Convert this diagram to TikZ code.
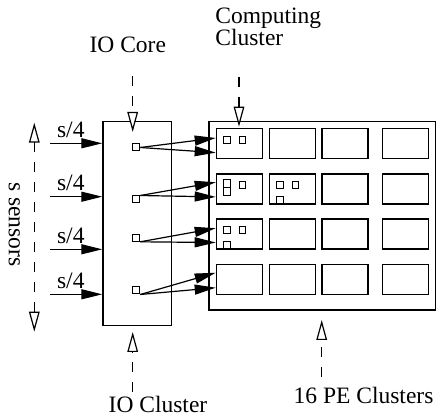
\documentclass[tikz,border=0pt]{standalone}
\usepackage{fontspec}
\setmainfont{Liberation Serif}
\usepackage{tikz}
\usetikzlibrary{arrows.meta, positioning, calc}

\tikzset{
  fillhead/.tip={Triangle[length=10.5pt, width=5pt]},
  hollowhead/.tip={Triangle[open, fill=white, length=10pt, width=5.3pt]},
  box/.style={draw, line width=0.6pt, inner sep=0pt, anchor=north west},
  pecell/.style={box, minimum width=23pt, minimum height=15pt},
  core/.style={draw, line width=0.5pt, inner sep=0pt, minimum size=3.4pt},
  txt/.style={inner sep=0pt, font=\fontsize{11.75}{10.85}\selectfont},
  feed/.style={line width=0.6pt, -fillhead},
  pointer/.style={line width=0.6pt, dash pattern=on 5pt off 5pt, -hollowhead}
}

\begin{document}
\begin{tikzpicture}[x=0.5pt, y=-0.5pt]
\useasboundingbox (0,0) rectangle (440,417);

% IO cluster and its cores
\node[box, minimum width=34.35pt, minimum height=102.15pt] (iocl) at (102.3,120.7) {};
\node[core, minimum size=3.5pt] (core1) at (136.3,147.5) {};
\node[core, minimum size=3.5pt] (core2) at (136.3,199.5) {};
\node[core, minimum size=3.5pt] (core3) at (136.3,237.8) {};
\node[core, minimum size=3.5pt] (core4) at (136.3,290.5) {};

% PE clusters, 4 x 4
\node[box, minimum width=113.35pt, minimum height=94.4pt] (pecl) at (208.3,120.7) {};
\node[pecell] (c11) at (215.7,128.3) {};
\node[pecell] (c12) at (268.7,128.3) {};
\node[pecell] (c13) at (321.3,128.3) {};
\node[pecell] (c14) at (382.0,128.3) {};
\node[pecell] (c21) at (215.7,173.5) {};
\node[pecell] (c22) at (268.7,173.5) {};
\node[pecell] (c23) at (321.3,173.5) {};
\node[pecell] (c24) at (382.0,173.5) {};
\node[pecell] (c31) at (215.7,218.5) {};
\node[pecell] (c32) at (268.7,218.5) {};
\node[pecell] (c33) at (321.3,218.5) {};
\node[pecell] (c34) at (382.0,218.5) {};
\node[pecell] (c41) at (215.7,264.3) {};
\node[pecell] (c42) at (268.7,264.3) {};
\node[pecell] (c43) at (321.3,264.3) {};
\node[pecell] (c44) at (382.0,264.3) {};

% PEs in use
\node[core] (pe11a) at ($(c11.north west)+(11,11.7)$) {};
\node[core] (pe11b) at ($(c11.north west)+(26.8,11.7)$) {};
\node[core, minimum size=3.8pt] (pe21a) at ($(c21.north west)+(11.3,10.3)$) {};
\node[core, minimum size=3.8pt] (pe21b) at ($(c21.north west)+(11.3,18.1)$) {};
\node[core] (pe21c) at ($(c21.north west)+(26.8,11.2)$) {};
\node[core] (pe22a) at ($(c22.north west)+(11.3,11.5)$) {};
\node[core] (pe22b) at ($(c22.north west)+(26.8,11.5)$) {};
\node[core] (pe22c) at ($(c22.north west)+(11.3,26.8)$) {};
\node[core] (pe31a) at ($(c31.north west)+(11,11.8)$) {};
\node[core] (pe31b) at ($(c31.north west)+(26.8,11.8)$) {};
\node[core] (pe31c) at ($(c31.north west)+(11.3,26.8)$) {};

% sensor inputs
\coordinate (in1) at (50,143.3);
\coordinate (in2) at (50,196.7);
\coordinate (in3) at (50,249.3);
\coordinate (in4) at (50,294.3);
\draw[feed] (in1) -- (in1 -| iocl.west);
\draw[feed] (in2) -- (in2 -| iocl.west);
\draw[feed] (in3) -- (in3 -| iocl.west);
\draw[feed] (in4) -- (in4 -| iocl.west);
\node[txt, anchor=base] (share1) at (70.8,137.3) {s/4};
\node[txt, anchor=base] (share2) at (70.8,190.7) {s/4};
\node[txt, anchor=base] (share3) at (70.8,243.3) {s/4};
\node[txt, anchor=base] (share4) at (70.8,288.3) {s/4};

\coordinate (sens-top) at (34.3,122.7);
\coordinate (sens-bot) at (34.3,331.7);
\draw[pointer, hollowhead-hollowhead] (sens-top) -- (sens-bot);
\node[txt, rotate=-90] (sens-lbl) at (14.3,224.5) {s sensors};

% cores to computing clusters
\draw[feed] (core1.east) -- ($(c11.north west)!0.31!(c11.south west)$);
\draw[feed] (core1.east) -- ($(c11.north west)!0.78!(c11.south west)$);
\draw[feed] (core2.north east) -- ($(c21.north west)!0.28!(c21.south west)$);
\draw[feed] (core2.north east) -- ($(c21.north west)!0.75!(c21.south west)$);
\draw[feed] (core3.south east) -- ($(c31.north west)!0.31!(c31.south west)$);
\draw[feed] (core3.south east) -- ($(c31.north west)!0.77!(c31.south west)$);
\draw[feed] (core4.south east) -- ($(c41.north west)!0.27!(c41.south west)$);
\draw[feed] (core4.south east) -- ($(c41.north west)!0.75!(c41.south west)$);

% labels with dashed pointers
\node[txt, anchor=base] (core-lbl) at (127.8,52.7) {IO Core};
\coordinate (core-from) at (132.7,76);
\coordinate (core-to) at (132.7,132);
\draw[pointer] (core-from) -- (core-to);

\node[txt, anchor=north west, align=left] (comp-lbl) at (215,7.5) {Computing\\Cluster};
\coordinate (comp-from) at (239,76.7);
\coordinate (comp-to) at (239,126.7);
\draw[pointer] (comp-from) -- (comp-to);

\node[txt, anchor=base] (iocl-lbl) at (158,413) {IO Cluster};
\coordinate (iocl-from) at (132.7,392);
\coordinate (iocl-to) at (132.7,332);
\draw[pointer] (iocl-from) -- (iocl-to);

\node[txt, anchor=base west] (pecl-lbl) at (293.3,404) {16 PE Clusters};
\coordinate (pecl-from) at (321.7,377);
\coordinate (pecl-to) at (321.7,320);
\draw[pointer] (pecl-from) -- (pecl-to);

\end{tikzpicture}
\end{document}
